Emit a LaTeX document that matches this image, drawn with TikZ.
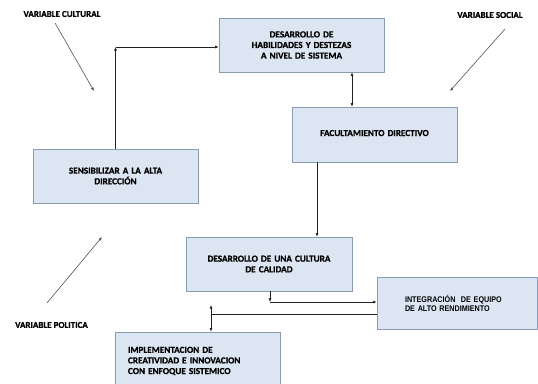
\documentclass[tikz,border=0pt]{standalone}
\usepackage{fontspec}
\setmainfont{Carlito}[BoldFont={Carlito Bold},BoldFeatures={FakeBold=0.8}]
\newfontfamily\narrowfont[FakeStretch=0.88,BoldFont={Liberation Sans Bold}]{Liberation Sans}
\usetikzlibrary{arrows.meta}
\definecolor{boxfill}{HTML}{DCE6F2}
\definecolor{boxline}{HTML}{8A9BB3}
\definecolor{lineclr}{HTML}{222222}
\definecolor{diagclr}{HTML}{555555}
\tikzset{
  box/.style={draw=boxline, fill=boxfill, line width=0.7pt, rectangle,
    inner ysep=0pt, font=\bfseries\fontsize{9.2}{10.6}\selectfont},
  lbl/.style={font=\bfseries\fontsize{9}{10}\selectfont, inner sep=0pt},
  conn/.style={draw=lineclr, line width=0.6pt},
  arr/.style={conn, -{Latex[length=3.6pt,width=3pt]}},
  darr/.style={conn, {Latex[length=3.6pt,width=3pt]}-{Latex[length=3.6pt,width=3pt]}},
  diag/.style={draw=diagclr, line width=0.6pt, -{Latex[length=3.6pt,width=3pt]}}
}
\begin{document}
\begin{tikzpicture}[x=1pt,y=-1pt]
\useasboundingbox (0,0) rectangle (538,383);
\fill[white] (0,0) rectangle (538,383);

% boxes
\node[box, minimum width=165pt, minimum height=54pt, text width=150pt, align=center, inner xsep=7.5pt]
  (b1) at (301.5,45) {DESARROLLO DE\\HABILIDADES Y DESTEZAS\\A NIVEL DE SISTEMA};
\node[box, minimum width=165pt, minimum height=55pt, text width=150pt, align=center, inner xsep=7.5pt]
  (b2) at (374.5,134.5) {\raisebox{3pt}{FACULTAMIENTO DIRECTIVO}};
\node[box, minimum width=165pt, minimum height=54pt, text width=150pt, align=center, inner xsep=7.5pt]
  (b3) at (115.5,176) {SENSIBILIZAR A LA ALTA\\DIRECCIÓN};
\node[box, minimum width=166pt, minimum height=54pt, text width=150pt, align=center, inner xsep=8pt]
  (b4) at (269,264) {DESARROLLO DE UNA CULTURA\\DE CALIDAD};
\node[box, minimum width=160.5pt, minimum height=52pt, text width=104.5pt, align=left, inner xsep=28pt,
  font=\narrowfont\bfseries\fontsize{8.2}{9}\selectfont]
  (b5) at (457.25,303) {INTEGRACIÓN\ \ DE EQUIPO\\DE ALTO RENDIMIENTO};
\node[box, minimum width=165pt, minimum height=58pt, text width=139pt, align=left, inner xsep=13pt]
  (b6) at (197.5,361) {IMPLEMENTACION DE\\CREATIVIDAD E INNOVACION\\CON ENFOQUE SISTEMICO};

% labels
\node[lbl] (vc) at (62,14) {VARIABLE CULTURAL};
\node[lbl] (vs) at (490,15) {VARIABLE SOCIAL};
\node[lbl] (vp) at (51.5,325) {VARIABLE POLITICA};

% helper coordinates
\coordinate (c1) at (115.5,47);
\coordinate (x1) at (352,0);
\coordinate (x2) at (317,0);
\coordinate (c2) at (270,302);
\coordinate (c3) at (211,314);
\coordinate (c4) at (211,305);
\coordinate (vcs) at (55,23);
\coordinate (vce) at (94,91);
\coordinate (vss) at (505,29);
\coordinate (vse) at (450,91);
\coordinate (vps) at (47,303);
\coordinate (vpe) at (102,237);

% connectors
\draw[arr] (b3.north) -- (c1);
\draw[arr] (c1) -- (c1 -| b1.west);
\draw[darr] (b1.south -| x1) -- (b2.north -| x1);
\draw[arr] (b2.south -| x2) -- (b4.north -| x2);
\draw[arr] (b4.south -| c2) -- (c2);
\draw[arr] (c2) -- (c2 -| b5.west);
\draw[conn] (c3 -| b5.west) -- (c3);
\draw[arr] (c3) -- (c3 |- b6.north);
\draw[arr] (c3) -- (c4);

% diagonal arrows
\draw[diag] (vcs) -- (vce);
\draw[diag] (vss) -- (vse);
\draw[diag] (vps) -- (vpe);
\end{tikzpicture}
\end{document}
